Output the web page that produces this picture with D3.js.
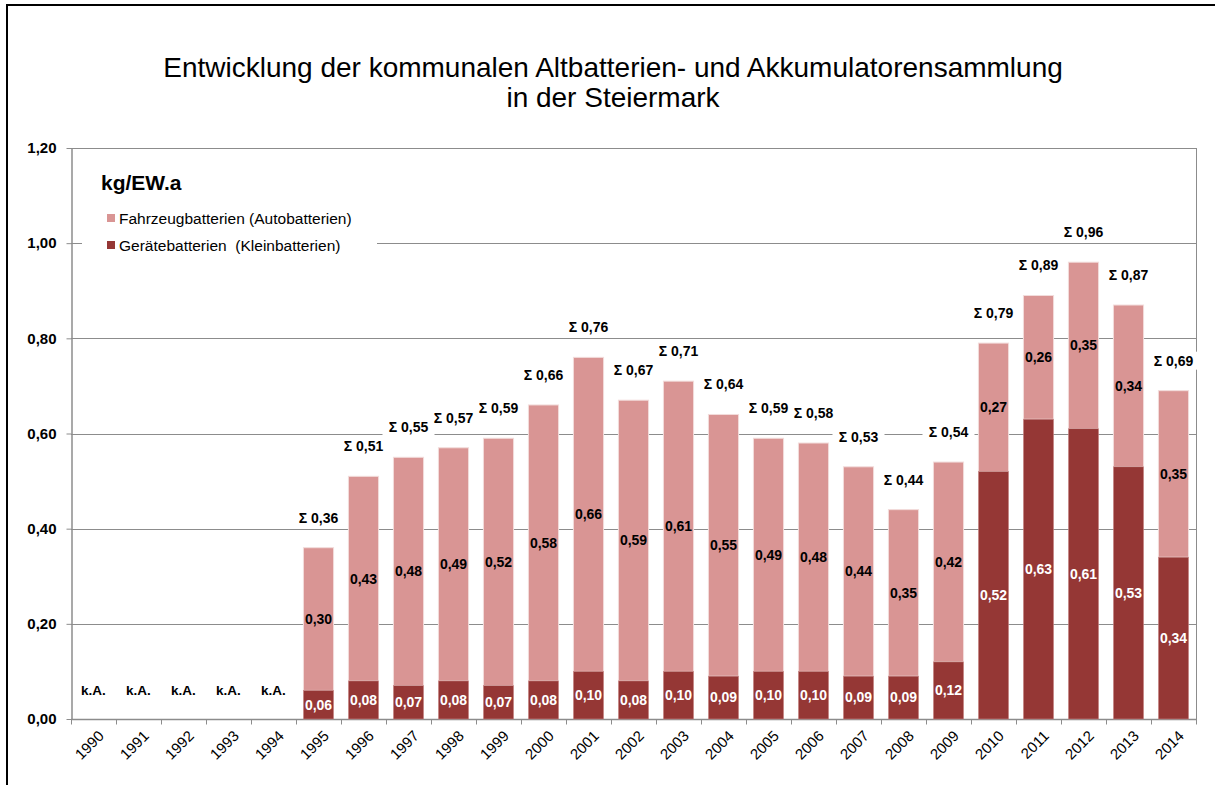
<!DOCTYPE html>
<html>
<head>
<meta charset="utf-8">
<script src="https://cdn.jsdelivr.net/npm/d3@7"></script>
<style>
  body { margin:0; background:#fff; }
  svg { font-family: "Liberation Sans", Arial, sans-serif; }
</style>
</head>
<body>
<svg width="1215" height="785"></svg>
<script>
var years = ["1990","1991","1992","1993","1994","1995","1996","1997","1998","1999","2000","2001","2002",
             "2003","2004","2005","2006","2007","2008","2009","2010","2011","2012","2013","2014"];
// null = keine Angabe (k.A.)
var geraete = [null,null,null,null,null,0.06,0.08,0.07,0.08,0.07,0.08,0.10,0.08,
               0.10,0.09,0.10,0.10,0.09,0.09,0.12,0.52,0.63,0.61,0.53,0.34];
var fahrzeug = [null,null,null,null,null,0.30,0.43,0.48,0.49,0.52,0.58,0.66,0.59,
                0.61,0.55,0.49,0.48,0.44,0.35,0.42,0.27,0.26,0.35,0.34,0.35];
var summe = [null,null,null,null,null,0.36,0.51,0.55,0.57,0.59,0.66,0.76,0.67,
             0.71,0.64,0.59,0.58,0.53,0.44,0.54,0.79,0.89,0.96,0.87,0.69];
var yTicks = [0, 0.2, 0.4, 0.6, 0.8, 1.0, 1.2];
var seriesNames = ["Fahrzeugbatterien (Autobatterien)", "Gerätebatterien  (Kleinbatterien)"];

var colLight = "#d99594", colDark = "#953735";

var svg = d3.select("svg");
var fmt = function(v){ return d3.format(".2f")(v).replace(".", ","); };

// "top" ist im browser belegt -> eigene namen
var pL = 71, pR = 1196, pT = 148, pB = 719;

var x = d3.scaleBand().domain(years).range([pL, pR]).paddingInner(0.33).paddingOuter(0.165);
var y = d3.scaleLinear().domain([0, 1.2]).range([pB, pT]);

// aussenrahmen
svg.append("rect")
  .attr("x", 7).attr("y", 5).attr("width", 1230).attr("height", 800)
  .attr("fill", "none").attr("stroke", "#000").attr("stroke-width", 2);

// titel
svg.append("text")
  .attr("x", 613).attr("y", 77)
  .attr("text-anchor", "middle")
  .attr("font-size", "28px")
  .text("Entwicklung der kommunalen Altbatterien- und Akkumulatorensammlung");
svg.append("text")
  .attr("x", 613).attr("y", 107)
  .attr("text-anchor", "middle")
  .attr("font-size", "28px")
  .text("in der Steiermark");

// gitternetz
svg.append("g")
  .selectAll("line")
  .data(yTicks.filter(function(d){ return d > 0; }))
  .enter().append("line")
  .attr("x1", pL).attr("x2", pR)
  .attr("y1", function(d){ return Math.round(y(d)) + 0.5; })
  .attr("y2", function(d){ return Math.round(y(d)) + 0.5; })
  .attr("stroke", "#8c8c8c").attr("stroke-width", 1);

// rechter rand der zeichenflaeche
svg.append("line")
  .attr("x1", pR + 0.5).attr("x2", pR + 0.5)
  .attr("y1", pT).attr("y2", pB)
  .attr("stroke", "#8c8c8c");

// y achse
var yAxis = svg.append("g")
  .attr("transform", "translate(" + (pL + 0.5) + ",0)")
  .call(d3.axisLeft(y).tickValues(yTicks).tickFormat(fmt).tickSize(5).tickSizeOuter(0));
yAxis.select(".domain").attr("stroke", "#8c8c8c").attr("stroke-width", 1.5);
yAxis.selectAll(".tick line").attr("stroke", "#8c8c8c");
yAxis.selectAll(".tick text")
  .attr("x", -15)
  .attr("font-size", "15px").attr("font-weight", "bold").attr("fill", "#000")
  .attr("font-family", "Liberation Sans, Arial, sans-serif");

// x achse, ticks zwischen den kategorien
var xg = svg.append("g").attr("transform", "translate(0," + (pB + 0.5) + ")");
xg.append("line").attr("x1", pL).attr("x2", pR + 1)
  .attr("stroke", "#8c8c8c").attr("stroke-width", 1.5);
xg.selectAll("line.tk")
  .data(d3.range(years.length + 1))
  .enter().append("line").attr("class", "tk")
  .attr("x1", function(i){ return pL + i * x.step() + 0.5; })
  .attr("x2", function(i){ return pL + i * x.step() + 0.5; })
  .attr("y1", 0).attr("y2", 5)
  .attr("stroke", "#8c8c8c");
xg.selectAll("text")
  .data(years)
  .enter().append("text")
  .attr("transform", function(d){
    return "translate(" + (x(d) + x.bandwidth()/2 + 4) + ",10) rotate(-45)";
  })
  .attr("text-anchor", "end")
  .attr("font-size", "15px")
  .attr("dy", "0.7em")
  .text(function(d){ return d; });

// legende (weisser hintergrund deckt das gitter ab)
var leg = svg.append("g");
leg.append("rect").attr("x", 82).attr("y", 160).attr("width", 295).attr("height", 100).attr("fill", "#fff");
leg.append("text").attr("x", 101).attr("y", 190)
  .attr("font-size", "21px").attr("font-weight", "bold")
  .text("kg/EW.a");
var legItems = leg.selectAll("g.item")
  .data([{name: seriesNames[0], col: colLight}, {name: seriesNames[1], col: colDark}])
  .enter().append("g").attr("class", "item")
  .attr("transform", function(d, i){ return "translate(107," + (219 + i * 27) + ")"; });
legItems.append("rect").attr("x", 0).attr("y", -5).attr("width", 8).attr("height", 8)
  .attr("fill", function(d){ return d.col; });
legItems.append("text").attr("x", 12).attr("y", 5)
  .attr("font-size", "15.5px")
  .style("white-space", "pre")
  .text(function(d){ return d.name; });

// balken
var rows = years.map(function(yr, i){
  return {year: yr, g: geraete[i], f: fahrzeug[i], s: summe[i]};
});
var withData = rows.filter(function(d){ return d.g !== null; });

var bars = svg.append("g").selectAll("g")
  .data(withData)
  .enter().append("g");

bars.append("rect")
  .attr("x", function(d){ return x(d.year); })
  .attr("width", x.bandwidth())
  .attr("y", function(d){ return y(d.g + d.f); })
  .attr("height", function(d){ return y(d.g) - y(d.g + d.f); })
  .attr("fill", colLight)
  .attr("stroke", "#f2dcdb").attr("stroke-width", 1);

bars.append("rect")
  .attr("x", function(d){ return x(d.year); })
  .attr("width", x.bandwidth())
  .attr("y", function(d){ return y(d.g); })
  .attr("height", function(d){ return y(0) - y(d.g); })
  .attr("fill", colDark)
  .attr("stroke", "#c98a89").attr("stroke-width", 0.6);

// werte in den segmenten
bars.append("text")
  .attr("x", function(d){ return x(d.year) + x.bandwidth()/2; })
  .attr("y", function(d){ return (y(d.g) + y(d.g + d.f)) / 2; })
  .attr("dy", "0.35em")
  .attr("text-anchor", "middle")
  .attr("font-size", "14px").attr("font-weight", "bold")
  .attr("fill", "#000")
  .text(function(d){ return fmt(d.f); });

bars.append("text")
  .attr("x", function(d){ return x(d.year) + x.bandwidth()/2; })
  .attr("y", function(d){ return (y(0) + y(d.g)) / 2; })
  .attr("dy", "0.35em")
  .attr("text-anchor", "middle")
  .attr("font-size", "14px").attr("font-weight", "bold")
  .attr("fill", "#fff")
  .text(function(d){ return fmt(d.g); });

// summen ueber den balken: erst alle weissen kaesten, dann die texte
var sumPos = function(d){
  return "translate(" + (x(d.year) + x.bandwidth()/2) + "," + (y(d.s) - 30) + ")";
};
svg.append("g").selectAll("rect")
  .data(withData)
  .enter().append("rect")
  .attr("transform", sumPos)
  .attr("x", -26).attr("y", -9).attr("width", 52).attr("height", 18).attr("fill", "#fff");
svg.append("g").selectAll("text")
  .data(withData)
  .enter().append("text")
  .attr("transform", sumPos)
  .attr("text-anchor", "middle").attr("dy", "0.35em")
  .attr("font-size", "14px").attr("font-weight", "bold")
  .text(function(d){ return "Σ " + fmt(d.s); });

// k.A. fuer jahre ohne daten
svg.append("g").selectAll("text")
  .data(rows.filter(function(d){ return d.g === null; }))
  .enter().append("text")
  .attr("x", function(d){ return x(d.year) + x.bandwidth()/2; })
  .attr("y", y(0.06))
  .attr("dy", "0.35em")
  .attr("text-anchor", "middle")
  .attr("font-size", "13.5px").attr("font-weight", "bold")
  .text("k.A.");
</script>
</body>
</html>
